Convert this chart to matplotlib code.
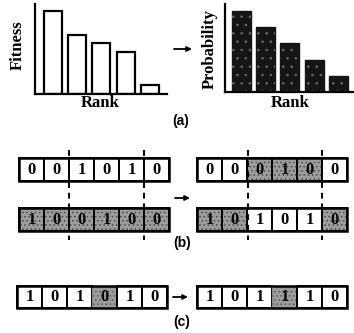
import matplotlib
matplotlib.use("Agg")
import matplotlib.pyplot as plt
from matplotlib.patches import Rectangle

W, H = 354, 333
plt.rcParams['hatch.linewidth'] = 0.6

# ---- data ----
ranks = [0, 1, 2, 3, 4]
fitness = [83, 59, 51, 42, 9]
probability = [81, 65, 49, 32, 16]

parent1 = "001010"
parent2 = "100100"
child1 = "000100"
child2 = "101010"
child1_from_p2 = [0, 0, 1, 1, 1, 0]
child2_from_p2 = [1, 1, 0, 0, 0, 1]
before_mut = "101010"
after_mut = "101110"
mut_pos = 3

SERIF = "Liberation Serif"
fig = plt.figure(figsize=(W / 100, H / 100), dpi=100)


def px_axes(x0, y0, x1, y1):
    return fig.add_axes([x0 / W, 1 - y1 / H, (x1 - x0) / W, (y1 - y0) / H])


def ftext(x, y, s, **kw):
    fig.text(x / W, 1 - y / H, s, ha="center", va="center", **kw)


def arrow(x0, x1, y):
    a = px_axes(0, 0, W, H)
    a.set_xlim(0, W); a.set_ylim(H, 0); a.axis("off")
    a.annotate("", xy=(x1, y), xytext=(x0, y),
               arrowprops=dict(arrowstyle="-|>", lw=1.3, color="black",
                               mutation_scale=7, shrinkA=0, shrinkB=0))


def bar_axes(ax, vals, ylim, xlim, width, dark):
    if dark:
        ax.bar(ranks, vals, width=width, color="#151515", edgecolor="#151515", lw=1)
        ax.bar(ranks, vals, width=width, fill=False, hatch="..", edgecolor="#6a6a6a", lw=0)
    else:
        ax.bar(ranks, vals, width=width, color="white", edgecolor="black", lw=1.6)
    ax.set_xlim(*xlim); ax.set_ylim(*ylim)
    for s in ["top", "right"]:
        ax.spines[s].set_visible(False)
    for s in ["left", "bottom"]:
        ax.spines[s].set_linewidth(1.6)
    ax.set_xticks([]); ax.set_yticks([])
    ax.patch.set_alpha(0)


# ---- (a) ----
ax1 = px_axes(35, 4, 167, 94)
bar_axes(ax1, fitness, (0, 90), (-0.72, 4.7), 0.74, False)
ax2 = px_axes(225, 4, 354, 92)
bar_axes(ax2, probability, (0, 88), (-0.66, 4.63), 0.78, True)

ftext(18, 45, "Fitness", family=SERIF, weight="bold", size=12, rotation=90)
ftext(100, 103, "Rank", family=SERIF, weight="bold", size=12)
ftext(210, 49, "Probability", family=SERIF, weight="bold", size=12, rotation=90)
ftext(290, 103, "Rank", family=SERIF, weight="bold", size=12)
ftext(181, 121, "(a)", family="Liberation Sans", weight="bold", size=10)
arrow(174, 192, 49)


# ---- cell rows ----
def row(x0, y0, x1, y1, bits, gray, fuzzy=None):
    ax = px_axes(x0 - 2, y0 - 2, x1 + 2, y1 + 2)
    sx = 6 / (x1 - x0)
    ax.set_xlim(-2 * sx, 6 + 2 * sx)
    sy = 1 / (y1 - y0)
    ax.set_ylim(-2 * sy, 1 + 2 * sy)
    ax.axis("off")
    for i, b in enumerate(bits):
        g = gray[i]
        if fuzzy is not None and i == fuzzy:
            ax.add_patch(Rectangle((i, 0), 1, 1, facecolor="#9c9c9c", edgecolor="none", lw=0))
            ax.add_patch(Rectangle((i, 0), 1, 1, fill=False, hatch="....", edgecolor="#5a5a5a", lw=0))
            ax.add_patch(Rectangle((i, 0), 1, 1, fill=False, edgecolor="#777777", lw=1.0, ls=(0, (1, 1))))
        elif g:
            ax.add_patch(Rectangle((i, 0), 1, 1, facecolor="#9c9c9c", edgecolor="black", lw=1.4))
            ax.add_patch(Rectangle((i, 0), 1, 1, fill=False, hatch="....", edgecolor="#4a4a4a", lw=0))
            ax.add_patch(Rectangle((i, 0), 1, 1, fill=False, edgecolor="black", lw=1.4))
        else:
            ax.add_patch(Rectangle((i, 0), 1, 1, facecolor="white", edgecolor="black", lw=1.4))
        ax.text(i + 0.5, 0.5, b, ha="center", va="center", family=SERIF,
                weight="bold", size=12, color="black")
    ax.add_patch(Rectangle((0, 0), 6, 1, fill=False, edgecolor="black", lw=1.8))
    return ax


def dashed(x, y0, y1):
    a = px_axes(0, 0, W, H)
    a.set_xlim(0, W); a.set_ylim(H, 0); a.axis("off")
    a.plot([x, x], [y0, y1], color="black", lw=1.4, ls=(0, (3, 2.5)))


# (b)
row(19, 158, 169, 181, parent1, [0] * 6)
row(19, 208, 169, 231, parent2, [1] * 6)
row(197, 158, 347, 181, child1, child1_from_p2)
row(197, 208, 347, 231, child2, child2_from_p2)
for x in (69, 144, 248, 322):
    dashed(x, 150, 240)
arrow(175, 190, 198)
ftext(182, 243, "(b)", family="Liberation Sans", weight="bold", size=10)

# (c)
row(17, 286, 167, 308, before_mut, [0] * 6, fuzzy=mut_pos)
row(197, 286, 347, 308, after_mut, [0] * 6, fuzzy=mut_pos)
arrow(173, 188, 297)
ftext(182, 322, "(c)", family="Liberation Sans", weight="bold", size=10)

fig.savefig("out.png", dpi=100)
